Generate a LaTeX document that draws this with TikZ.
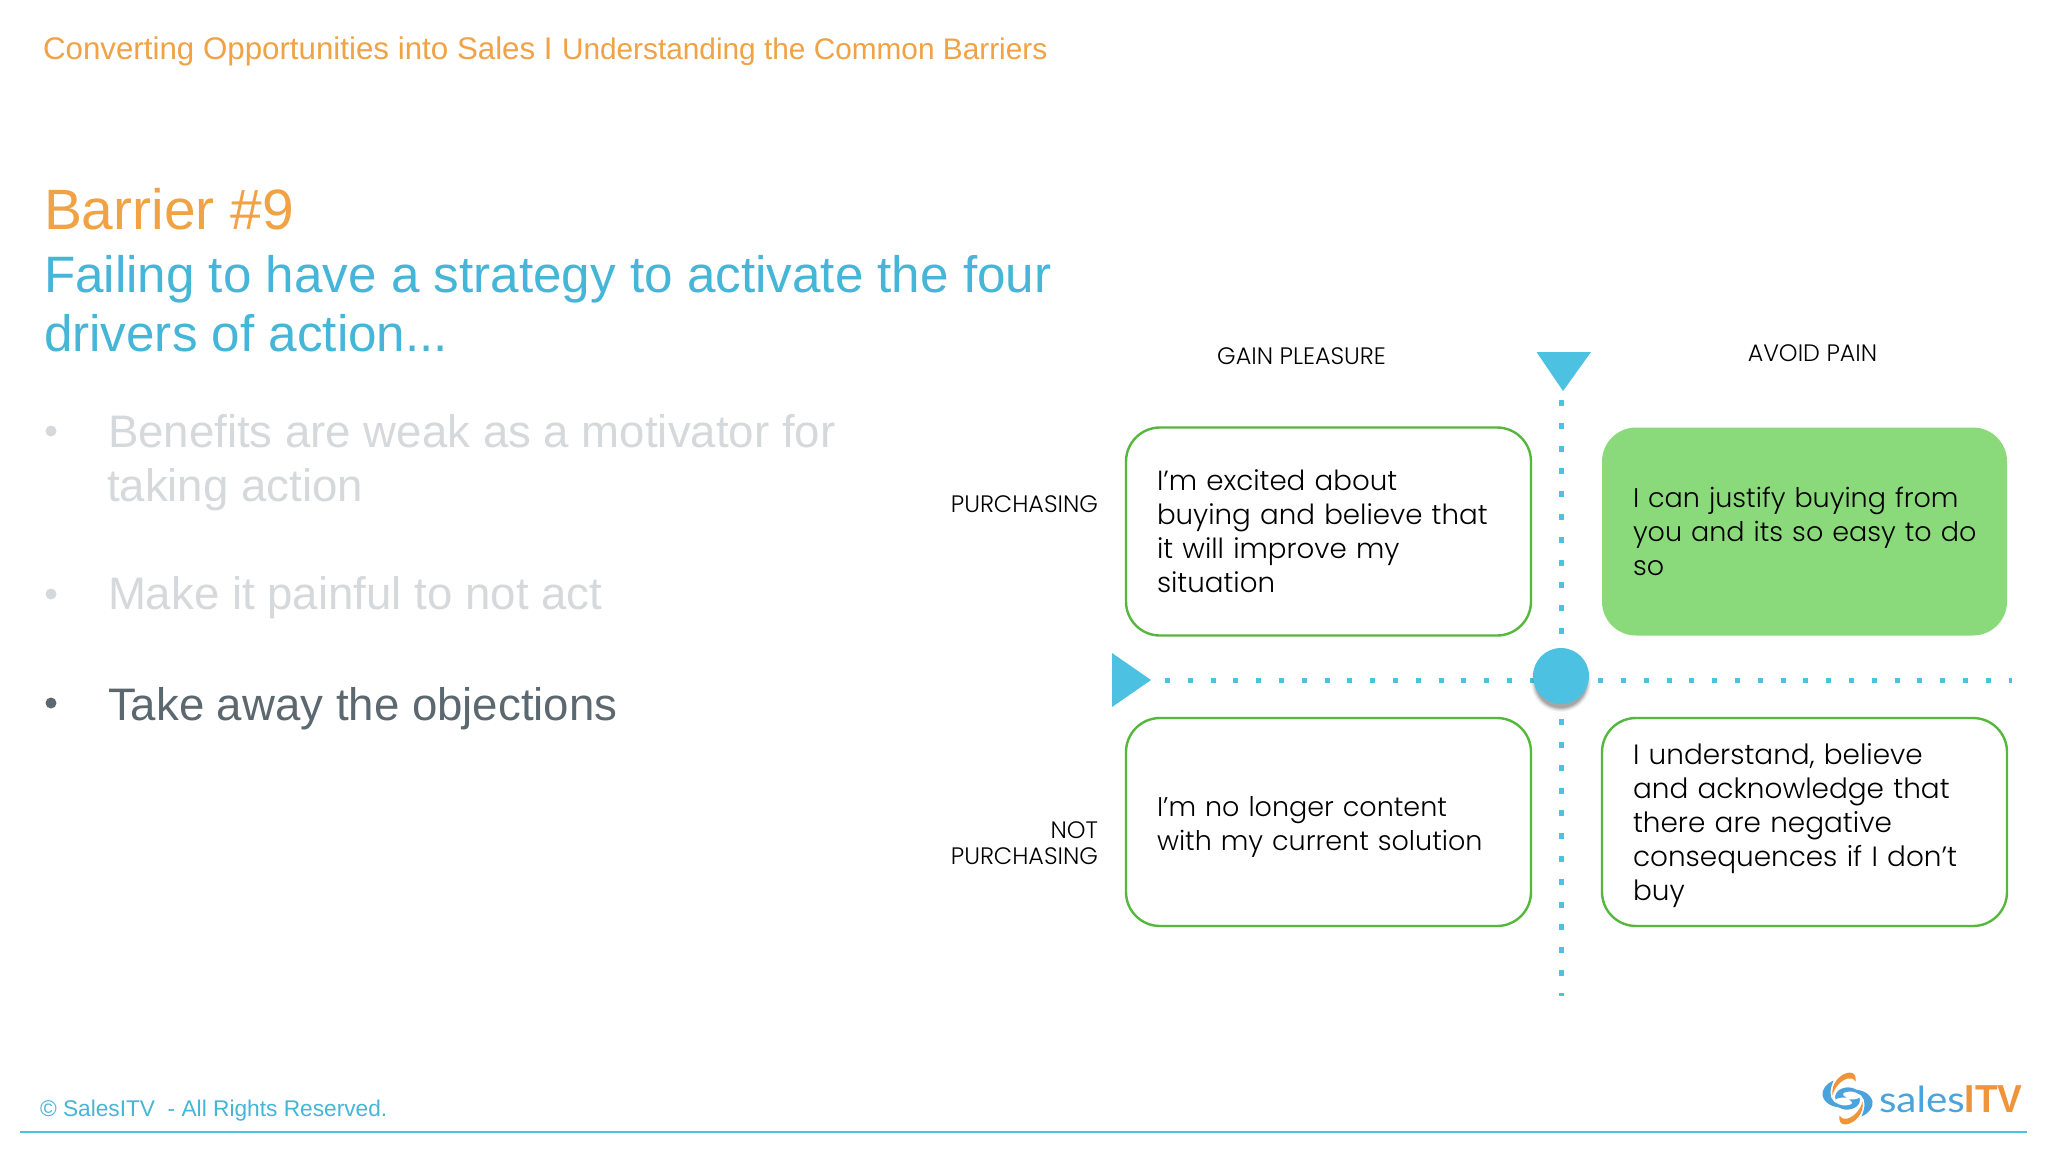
\documentclass[tikz,border=0pt]{standalone}
\usepackage{fontspec}
\setmainfont{Liberation Sans}
\newfontfamily\gothic{Poppins Light}
\newfontfamily\logofont{Lato}[FakeStretch=1.12]
\newfontfamily\logobold{Liberation Sans Bold}[FakeStretch=0.95]
\definecolor{hdrorange}{HTML}{F0A245}
\definecolor{hdrblue}{HTML}{45B5D8}
\definecolor{markblue}{HTML}{4DC1E1}
\definecolor{boxgreen}{HTML}{55B83D}
\definecolor{boxfill}{HTML}{8AD97A}
\definecolor{fadegray}{HTML}{D6D9DB}
\definecolor{darkgray}{HTML}{5C6870}
\definecolor{logoblue}{HTML}{4BA3DC}
\definecolor{logoorange}{HTML}{F0943A}
\tikzset{
 txt/.style={anchor=base west,inner sep=0pt,outer sep=0pt},
 lab/.style={inner sep=0pt,outer sep=0pt,font=\gothic\fontsize{23.8}{25.5}\selectfont},
 quad/.style={draw=boxgreen,line width=2.4pt,rounded corners=34pt,minimum width=405pt,minimum height=208pt,inner xsep=31pt,inner ysep=0pt,text width=343pt,align=left,font=\gothic\fontsize{#1}{34}\selectfont,text=black},
 quadfill/.style={quad=#1,fill=boxfill,draw=none},
 dothoriz/.style={markblue,line width=5pt,dash pattern=on 5pt off 17.8pt},
 dotvert/.style={markblue,line width=5pt,dash pattern=on 6pt off 16.8pt},
 bulletdot/.style={circle,inner sep=0pt,minimum size=11pt},
}
\begin{document}
\begin{tikzpicture}[x=1pt,y=-1pt]
\useasboundingbox (0,0) rectangle (2048,1152);
\fill[white] (0,0) rectangle (2048,1152);
% header
\node[txt,text=hdrorange,font=\fontsize{31.3}{36}\selectfont] (head1) at (43,59) {Converting Opportunities into Sales I};
\node[txt,text=hdrorange,font=\fontsize{29.8}{36}\selectfont] (head2) at (562,59) {Understanding the Common Barriers};
\node[txt,text=hdrorange,font=\fontsize{56.9}{60}\selectfont] (barrier) at (44,229) {Barrier \#9};
\node[txt,text=hdrblue,font=\fontsize{51.2}{59}\selectfont] (fail1) at (44,292) {Failing to have a strategy to activate the four};
\node[txt,text=hdrblue,font=\fontsize{51.2}{59}\selectfont] (fail2) at (44,351) {drivers of action...};
% bullets
\node[bulletdot,fill=fadegray] (b1) at (51,431) {};
\node[txt,text=fadegray,font=\fontsize{45.6}{54}\selectfont] (t1a) at (108,447) {Benefits are weak as a motivator for};
\node[txt,text=fadegray,font=\fontsize{45.6}{54}\selectfont] (t1b) at (107,501) {taking action};
\node[bulletdot,fill=fadegray] (b2) at (51,594) {};
\node[txt,text=fadegray,font=\fontsize{45.6}{54}\selectfont] (t2) at (108,609) {Make it painful to not act};
\node[bulletdot,fill=darkgray] (b3) at (51,703) {};
\node[txt,text=darkgray,font=\fontsize{45.6}{54}\selectfont] (t3) at (108,720) {Take away the objections};
% axes
\coordinate (hs) at (1165,680);
\coordinate (he) at (2012,680);
\coordinate (vs) at (1561,400);
\coordinate (ve) at (1561,996);
\draw[dothoriz] (hs) -- (he);
\draw[dotvert] (vs) -- (ve);
\fill[markblue] (1536.5,352) -- (1591,352) -- (1563,391) -- cycle;
\fill[markblue] (1112,653) -- (1151,680) -- (1112,707) -- cycle;
\foreach \r/\o in {30/.04,29/.06,28/.08,27/.10,26/.12}
  \fill[black,opacity=\o] (1561,682) circle (\r pt);
\node[circle,fill=markblue,minimum size=56pt,inner sep=0pt] (hub) at (1561,676) {};
% quadrant boxes
\node[quad=27.7] (q1) at (1328.5,531.5) {I’m excited about\\buying and believe that\\it will improve my\\situation};
\node[quadfill=27] (q2) at (1804.5,531.5) {I can justify buying from\\\mbox{you and its so easy to do}\\so};
\node[quad=27] (q3) at (1328.5,822) {\rule{0pt}{30pt}I’m no longer content\\with my current solution};
\node[quad=27.9] (q4) at (1804.5,822) {\rule{0pt}{29pt}I understand, believe\\and acknowledge that\\there are negative\\consequences if I don’t\\buy};
% labels
\node[lab,anchor=base] (gain) at (1301.5,364) {GAIN PLEASURE};
\node[lab,anchor=base] (avoid) at (1812.5,361) {AVOID PAIN};
\node[lab,anchor=base east] (pur) at (1098,512) {PURCHASING};
\node[lab,anchor=base east] (np1) at (1098,838) {NOT};
\node[lab,anchor=base east] (np2) at (1098,864) {PURCHASING};
% footer
\node[txt,text=hdrblue,font=\fontsize{22.7}{26}\selectfont] (copy) at (40,1116) {© SalesITV~ - All Rights Reserved.};
\coordinate (fl) at (20,1132);
\coordinate (fr) at (2027,1132);
\draw[markblue,line width=2.4pt] (fl) -- (fr);
% logo
\begin{scope}[shift={(1847.5,1098.5)}]
 \foreach \a in {0,180}{
 \begin{scope}[rotate=\a]
  \fill[logoorange] (-15,-3) .. controls (-17,-14) and (-8,-25) .. (2,-26) .. controls (7,-26) and (9,-22) .. (8,-17)
     .. controls (6,-20) and (3,-21) .. (0,-20) .. controls (-7,-18) and (-13,-11) .. (-15,-3) -- cycle;
  \fill[logoblue] (-14,-18) .. controls (-21,-15) and (-26,-9) .. (-25,-3) .. controls (-23,5) and (-15,9) .. (-5,9)
     .. controls (-11,6) and (-18,1) .. (-17,-6) .. controls (-17,-11) and (-15,-15) .. (-14,-18) -- cycle;
  \fill[logoblue] (-12,1) .. controls (-14,-6) and (-7,-12) .. (3,-11) .. controls (8,-10) and (11,-8) .. (12,-4)
     .. controls (8,-7) and (2,-8) .. (-3,-6) .. controls (-6,-5) and (-4,-2) .. (-1,-1)
     .. controls (-5,-1) and (-10,-1) .. (-12,1) -- cycle;
 \end{scope}}
\end{scope}
\node[txt,font=\logofont\fontsize{36}{40}\selectfont] (logo) at (1879,1112) {\textcolor{logoblue}{sales}\textcolor{logoorange}{\logobold\fontsize{39}{40}\selectfont ITV}};
\end{tikzpicture}
\end{document}
